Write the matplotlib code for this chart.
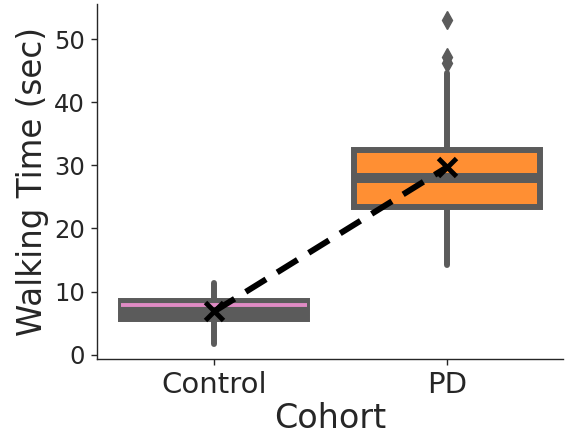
import matplotlib
matplotlib.use("Agg")
import matplotlib.pyplot as plt

categories = ["Control", "PD"]
q1 = [5.6, 23.4]
medians = [7.9, 28.0]
q3 = [8.5, 32.4]
whislo = [1.6, 14.2]
whishi = [11.4, 44.6]
means = [6.85, 29.7]
outliers = [[], [46.2, 47.2, 53.1]]
yticks = [0, 10, 20, 30, 40, 50]

gray = "#5b5b5b"
face_colors = [gray, "#ff8f33"]
median_colors = ["#e08bc4", gray]
median_widths = [2.8, 7.2]
text_color = "#262626"

fig = plt.figure(figsize=(5.66, 4.41), dpi=100)
ax = fig.add_axes([0.171, 0.186, 0.824, 0.805])

positions = list(range(len(categories)))
stats = []
for i, c in enumerate(categories):
    stats.append(dict(label=c, q1=q1[i], med=medians[i], q3=q3[i],
                      whislo=whislo[i], whishi=whishi[i], fliers=outliers[i],
                      mean=means[i]))

for i, s in enumerate(stats):
    ax.bxp([s], positions=[positions[i]], widths=0.8, patch_artist=True,
           showcaps=False, showmeans=False,
           boxprops=dict(facecolor=face_colors[i], edgecolor=gray, linewidth=4.3),
           whiskerprops=dict(color=gray, linewidth=4.3, solid_capstyle="round"),
           medianprops=dict(color=median_colors[i], linewidth=median_widths[i],
                            solid_capstyle="butt"),
           flierprops=dict(marker="d", markerfacecolor=gray, markeredgecolor=gray,
                           markersize=9, linestyle="none"))

ax.plot(positions, means, color="black", linestyle="--", linewidth=4.3,
        dashes=(4, 2.2), marker="x", markersize=13, markeredgewidth=3.5,
        zorder=5)

ax.set_xlim(-0.505, 1.5)
ax.set_ylim(-0.7, 55.6)
ax.set_xticks(positions)
ax.set_xticklabels(categories)
ax.set_yticks(yticks)

for sp in ["top", "right"]:
    ax.spines[sp].set_visible(False)
for sp in ["left", "bottom"]:
    ax.spines[sp].set_color(text_color)
    ax.spines[sp].set_linewidth(1.0)

ax.tick_params(axis="y", labelsize=17.5, colors=text_color, length=4.5, width=1.0, pad=4)
ax.tick_params(axis="x", labelsize=21, colors=text_color, length=4.5, width=1.0, pad=4)
ax.set_xlabel("Cohort", fontsize=24, color=text_color, labelpad=2)
ax.set_ylabel("Walking Time (sec)", fontsize=23.5, color=text_color, labelpad=4)

fig.savefig("out.png", dpi=100)
